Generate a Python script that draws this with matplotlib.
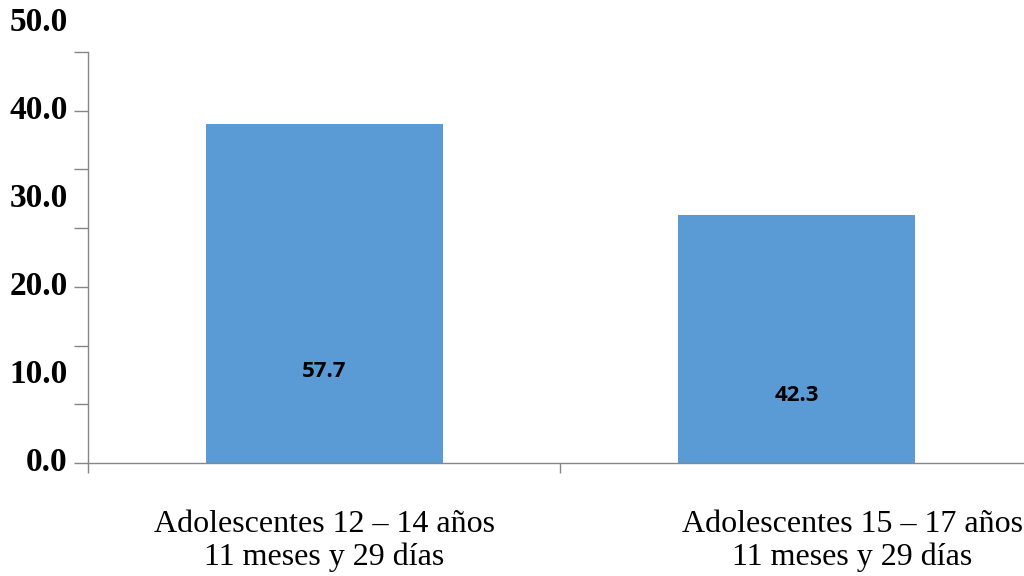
import matplotlib
matplotlib.use("Agg")
import matplotlib.pyplot as plt
from matplotlib.ticker import MultipleLocator, NullFormatter

# Data
categories = ["Adolescentes 12 – 14 años\n11 meses y 29 días",
              "Adolescentes 15 – 17 años\n11 meses y 29 días"]
values = [57.7, 42.3]
ytick_text = ["0.0", "10.0", "20.0", "30.0", "40.0", "50.0"]
ytick_pos = [0, 15, 30, 45, 60, 75]
label_shift = [0.0, 0.118]

bar_color = "#5B9BD5"
axis_color = "#868686"

fig = plt.figure(figsize=(10.24, 5.76), dpi=100)
ax = fig.add_axes([0.0859, 0.1962, 0.9229, 0.7135])

x = list(range(len(values)))
ax.bar(x, values, width=0.5016, color=bar_color, zorder=2)

ax.set_xlim(-0.5, len(values) - 0.5)
ax.set_ylim(0, 70)

for s in ("top", "right"):
    ax.spines[s].set_visible(False)
for s in ("left", "bottom"):
    ax.spines[s].set_color(axis_color)
    ax.spines[s].set_linewidth(1.0)

ax.yaxis.set_major_locator(MultipleLocator(10))
ax.yaxis.set_major_formatter(NullFormatter())
ax.tick_params(axis="y", direction="out", length=10, width=1.0, color=axis_color)

ax.set_xticks([-0.5, 0.5, 1.5])
ax.set_xticklabels([])
ax.tick_params(axis="x", direction="out", length=7, width=1.0, color=axis_color)

# y-axis labels
for pos, txt in zip(ytick_pos, ytick_text):
    ax.text(-0.543, pos, txt, ha="right", va="center",
            fontfamily="Liberation Serif", fontweight="bold", fontsize=24,
            clip_on=False)

# category labels
for xi, cat, dx in zip(x, categories, label_shift):
    ax.text(xi + dx, -8.0, cat, ha="center", va="top",
            fontfamily="Liberation Serif", fontsize=23, linespacing=1.15,
            clip_on=False)

# value labels inside the bars
for xi, v in zip(x, values):
    ax.text(xi, v * 0.27, f"{v:.1f}", ha="center", va="center",
            fontfamily="Open Sans", fontweight="bold", fontsize=16, zorder=3)

fig.savefig("out.png", dpi=100)
